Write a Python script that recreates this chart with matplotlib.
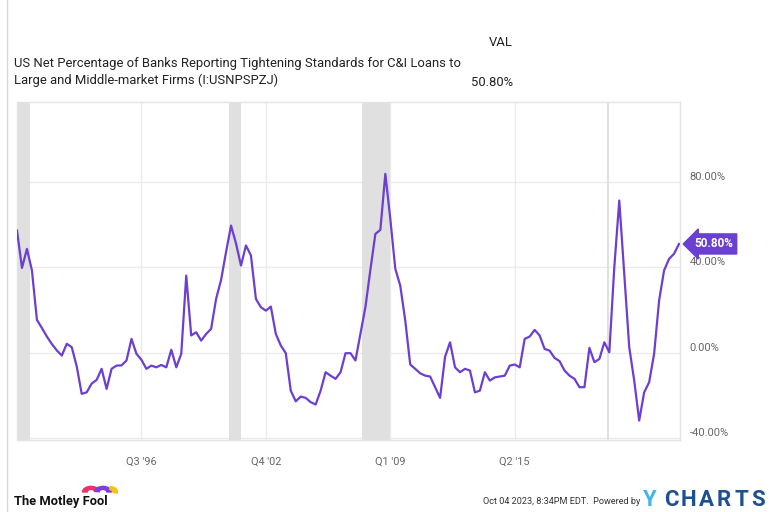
import numpy as np
import pandas as pd
import matplotlib
matplotlib.use("Agg")
import matplotlib.pyplot as plt
from matplotlib.patches import Wedge

# quarterly survey readings, 1990Q2 .. 2023Q3 (percent)
quarters = pd.period_range("1990Q2", "2023Q3", freq="Q")
values = [
    57.1, 39.6, 48.5, 38.4, 15.3, 11.5, 7.5, 4.0, 1.0, -1.4,
    4.1, 2.5, -6.5, -19.3, -18.6, -14.5, -12.8, -7.6, -17.0, -7.6,
    -6.1, -6.0, -3.7, 6.4, -0.6, -3.4, -7.6, -6.1, -6.9, -5.8,
    -6.9, 1.3, -6.9, -0.6, 36.0, 8.0, 9.5, 5.6, 8.7, 11.1,
    25.1, 34.0, 47.0, 59.4, 51.0, 40.7, 50.1, 45.4, 25.1, 21.2,
    19.6, 21.5, 8.7, 3.3, -0.3, -17.8, -22.8, -20.6, -21.2, -23.2,
    -24.3, -17.8, -9.2, -10.8, -12.3, -9.2, -0.3, -0.3, -3.7, 8.7,
    21.3, 38.8, 55.5, 57.4, 83.6, 62.5, 39.2, 31.3, 15.0, -5.6,
    -7.6, -9.7, -10.8, -11.2, -16.2, -21.2, -2.0, 4.8, -6.9, -9.2,
    -7.6, -8.4, -18.6, -17.8, -9.2, -13.1, -11.6, -11.2, -10.8, -6.1,
    -5.6, -6.9, 6.4, 7.5, 10.6, 8.0, 1.7, 0.9, -2.5, -4.0,
    -8.4, -10.8, -12.3, -16.2, -16.2, 2.2, -4.5, -3.0, 4.8, 0.1,
    39.9, 71.1, 36.8, 2.5, -13.1, -31.8, -18.6, -13.9, -0.6, 24.3,
    38.4, 43.8, 46.2, 50.8,
]

# shaded recession periods as they appear on the chart (fractional years)
rec_start = [1990.25, 2000.9, 2007.6, 2019.9]
rec_end = [1990.9, 2001.5, 2009.0, 2020.0]

tick_pos = [1996.5, 2002.75, 2009.0, 2015.25]
tick_lab = ["Q3 '96", "Q4 '02", "Q1 '09", "Q2 '15"]
ytick_pos = [-40, 0, 40, 80]
ytick_lab = ["-40.00%", "0.00%", "40.00%", "80.00%"]

title = ("US Net Percentage of Banks Reporting Tightening Standards for C&I Loans to\n"
         "Large and Middle-market Firms (I:USNPSPZJ)")
last_val = "50.80%"

purple = "#6a3fd2"
grid_c = "#ebebeb"
txt_c = "#666666"

plt.rcParams["font.family"] = ["Roboto", "DejaVu Sans"]

t = np.array([q.year + (q.quarter - 1) / 4 for q in quarters])

fig = plt.figure(figsize=(7.72, 5.12), dpi=100)
ax = fig.add_axes([17 / 772, 1 - 440 / 512, 663 / 772, 338 / 512])

for s, e in zip(rec_start, rec_end):
    ax.axvspan(s, e, color="#e0e0e0", lw=0, zorder=1)

ax.plot(t, values, color=purple, lw=1.6, zorder=3, solid_joinstyle="round")

ax.set_xlim(1990.25, 2023.55)
ax.set_ylim(-40.9, 117.2)

ax.set_xticks(tick_pos)
ax.set_xticklabels(tick_lab, color=txt_c, fontsize=7.8)
ax.set_yticks(ytick_pos)
ax.set_yticklabels(ytick_lab, color=txt_c, fontsize=8, va="bottom")
ax.yaxis.tick_right()
ax.tick_params(axis="both", length=0)
ax.tick_params(axis="y", pad=7)
ax.tick_params(axis="x", pad=12)
ax.grid(True, color=grid_c, lw=1, zorder=0)
ax.set_axisbelow(True)
for sp in ax.spines.values():
    sp.set_color("#e3e3e3")
    sp.set_linewidth(1)

# last value flag
ax.annotate(last_val, xy=(t[-1], values[-1]), xytext=(11, 0),
            textcoords="offset points", ha="left", va="center",
            fontsize=8.5, fontweight="bold", color="white",
            bbox=dict(boxstyle="larrow,pad=0.3", fc=purple, ec=purple),
            annotation_clip=False, zorder=5)

# header
fig.text(14 / 772, 1 - 72 / 512, title, fontsize=9.4, color="#222222",
         ha="left", va="center", linespacing=1.35)
fig.text(513 / 772, 1 - 42 / 512, "VAL", fontsize=9.4, color="#222222",
         ha="right", va="center")
fig.text(513 / 772, 1 - 82 / 512, last_val, fontsize=9.4, color="#222222",
         ha="right", va="center")

# left frame line
fig.add_artist(plt.Line2D([7 / 772, 7 / 772], [0, 1],
                          transform=fig.transFigure, color="#d8d8d8", lw=1))

# footer
fig.text(14 / 772, 1 - 502 / 512, "The Motley Fool", fontsize=9.3,
         fontweight="bold", color="#111111", ha="left", va="center")
hat = [(91, "#e8336f", 15, 180), (103, "#7d3fd6", 0, 175), (109, "#f3c21b", -10, 80)]
for cx, col, a1, a2 in hat:
    fig.add_artist(Wedge((cx / 772, 1 - 492 / 512), 0.011, a1, a2,
                         width=0.006, color=col, transform=fig.transFigure))
fig.text(640 / 772, 1 - 502 / 512, "Oct 04 2023, 8:34PM EDT.  Powered by",
         fontsize=6.6, color="#333333", ha="right", va="center")
fig.text(643 / 772, 1 - 500 / 512, "Y", fontsize=16, fontweight="bold",
         color="#3fb6ea", ha="left", va="center")
for k, ch in enumerate("CHARTS"):
    fig.text((671 + 17.5 * k) / 772, 1 - 500 / 512, ch, fontsize=16,
             fontweight="bold", color="#1d4f91", ha="center", va="center")

fig.savefig("out.png", dpi=100)
